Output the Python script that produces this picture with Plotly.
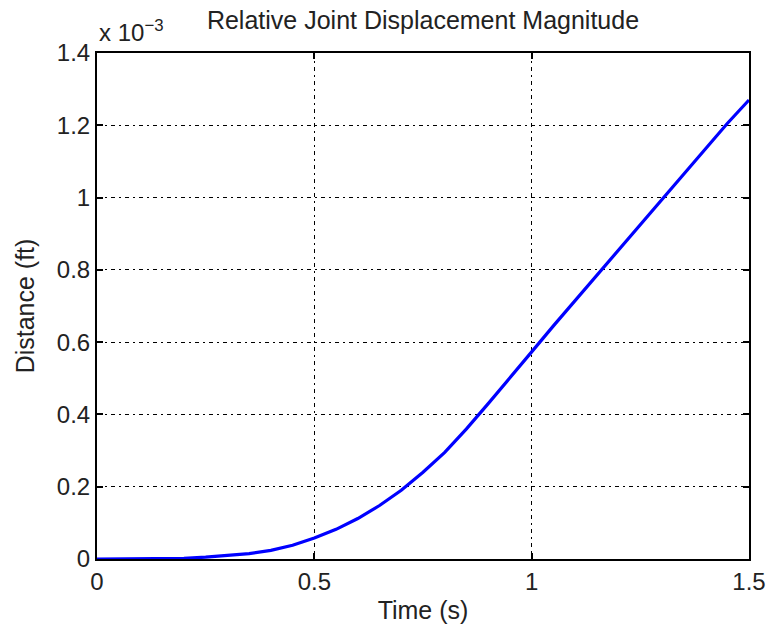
import plotly.graph_objects as go

# Data (distance in units of 1e-3 ft)
time_s = [0.0, 0.05, 0.1, 0.15, 0.2, 0.25, 0.3, 0.35, 0.4, 0.45, 0.5,
          0.55, 0.6, 0.65, 0.7, 0.75, 0.8, 0.85, 0.9, 0.95, 1.0,
          1.05, 1.1, 1.15, 1.2, 1.25, 1.3, 1.35, 1.4, 1.45, 1.5]
distance_e3 = [0.0, 0.0, 0.0005, 0.001, 0.002, 0.005, 0.009, 0.015, 0.024, 0.038, 0.058,
               0.082, 0.112, 0.148, 0.19, 0.24, 0.295, 0.36, 0.43, 0.50, 0.573,
               0.645, 0.715, 0.785, 0.855, 0.925, 0.995, 1.065, 1.135, 1.205, 1.27]
x_ticks = [0, 0.5, 1, 1.5]
x_tick_text = ["0", "0.5", "1", "1.5"]
y_ticks = [0, 0.2, 0.4, 0.6, 0.8, 1.0, 1.2, 1.4]
y_tick_text = ["0", "0.2", "0.4", "0.6", "0.8", "1", "1.2", "1.4"]

FONT = "Liberation Sans, Arial, sans-serif"
TXT = "#222222"

fig = go.Figure()
fig.add_trace(go.Scatter(x=time_s, y=distance_e3, mode="lines",
                         line=dict(color="#0000ff", width=3.2), showlegend=False))

axis_common = dict(
    showline=True, linecolor="black", linewidth=2, mirror="allticks",
    ticks="inside", ticklen=6, tickwidth=2, tickcolor="black",
    showgrid=True, gridcolor="black", gridwidth=1.2, griddash="4px,4px,2px,4px",
    zeroline=False, automargin=False,
    tickfont=dict(family=FONT, size=24, color=TXT),
)

fig.update_layout(
    width=770, height=633,
    margin=dict(l=97, r=21, t=53, b=74),
    paper_bgcolor="white", plot_bgcolor="white",
    title=dict(text="Relative Joint Displacement Magnitude", x=0.5, xref="paper",
               y=1, yref="container", yanchor="top", pad=dict(t=11),
               font=dict(family=FONT, size=25, color=TXT), automargin=False),
    xaxis=dict(range=[0, 1.5], tickvals=x_ticks, ticktext=x_tick_text,
               title=dict(text="Time (s)", font=dict(family=FONT, size=25, color=TXT), standoff=8),
               **axis_common),
    yaxis=dict(range=[0, 1.4], tickvals=y_ticks, ticktext=y_tick_text,
               title=dict(text="Distance (ft)", font=dict(family=FONT, size=25, color=TXT), standoff=15),
               **axis_common),
    annotations=[dict(text="x 10<sup>−3</sup>", xref="paper", yref="paper", x=0, y=1,
                      xanchor="left", yanchor="bottom", yshift=5, showarrow=False,
                      font=dict(family=FONT, size=24, color=TXT))],
)

fig.write_html("out.html")
